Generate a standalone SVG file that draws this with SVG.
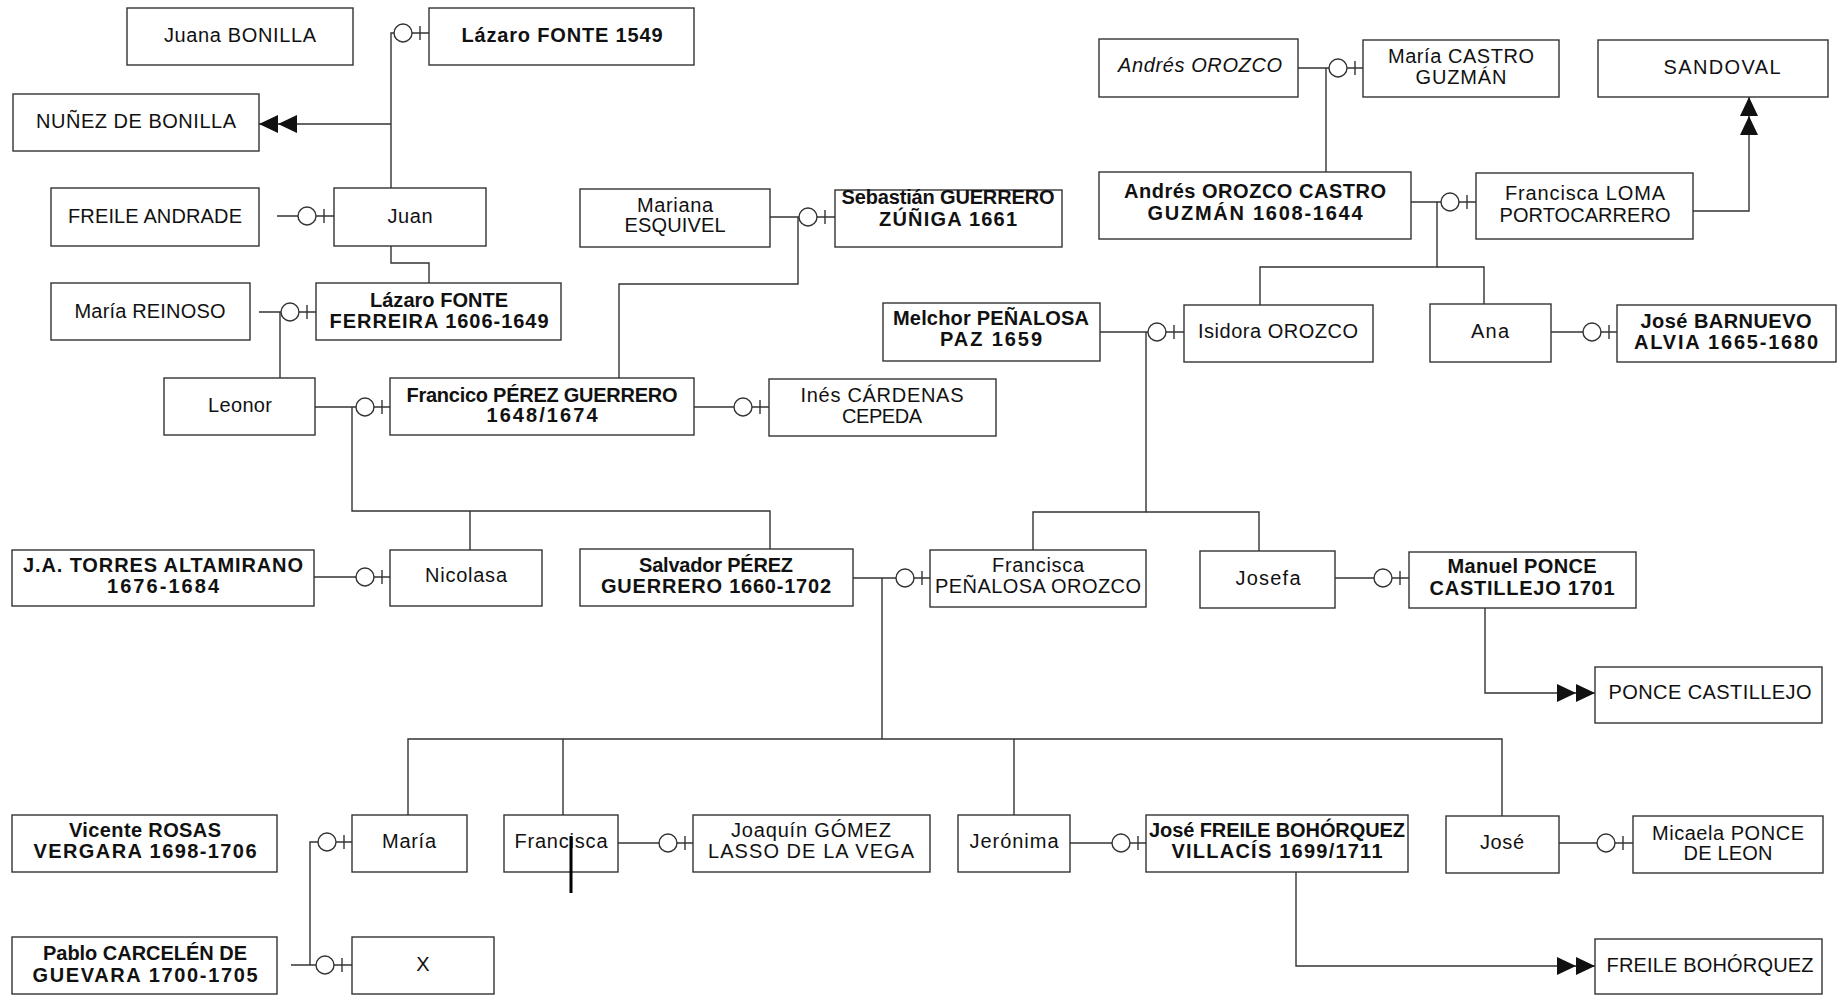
<svg xmlns="http://www.w3.org/2000/svg" xmlns:xlink="http://www.w3.org/1999/xlink" width="1843" height="996" viewBox="0 0 1843 996">
<style>
.node rect{fill:#fff;stroke:#333;stroke-width:1.4}
text{font-family:"Liberation Sans",Arial,Helvetica,sans-serif;font-size:20px;fill:#111;text-anchor:middle}
.b{font-weight:bold}
.i{font-style:italic}
.conn path{fill:none;stroke:#333;stroke-width:1.4}
.arr{marker-end:url(#dbl)}
</style>
<defs>
<marker id="dbl" viewBox="0 0 38 18" refX="38" refY="9" markerWidth="38" markerHeight="18" markerUnits="userSpaceOnUse" orient="auto">
<path d="M0,0 L19,9 L0,18 Z M19,0 L38,9 L19,18 Z" fill="#111"/>
</marker>
<g id="ring">
<circle r="9" fill="#fff" stroke="#333" stroke-width="1.4"/>
<line x1="17" y1="-7" x2="17" y2="7" stroke="#333" stroke-width="1.4"/>
</g>
</defs>
<rect width="1843" height="996" fill="#fff"/>

<g id="connectors" class="conn">
<path d="M429,33 H391 V188"/>
<path class="arr" d="M391,124 H259"/>
<path d="M277,216 H334"/>
<path d="M391,246 V263 H429 V283"/>
<path d="M259,312 H316"/>
<path d="M280,312 V378"/>
<path d="M770,217 H835"/>
<path d="M798,217 V284 H619 V378"/>
<path d="M315,407 H390"/>
<path d="M352,407 V511 H770 V549"/>
<path d="M470,511 V550"/>
<path d="M694,407 H769"/>
<path d="M314,577 H390"/>
<path d="M1100,332 H1184"/>
<path d="M1146,332 V512 H1033 V550"/>
<path d="M1146,512 H1259 V551"/>
<path d="M1298,68 H1363"/>
<path d="M1326,68 V172"/>
<path d="M1411,202 H1476"/>
<path d="M1437,202 V267 H1260 V305"/>
<path d="M1437,267 H1484 V304"/>
<path d="M1551,332 H1617"/>
<path class="arr" d="M1693,211 H1749 V97"/>
<path d="M853,578 H930"/>
<path d="M882,578 V739"/>
<path d="M408,815 V739 H1502 V816"/>
<path d="M563,739 V815"/>
<path d="M1014,739 V815"/>
<path d="M1335,578 H1409"/>
<path class="arr" d="M1485,608 V693 H1595"/>
<path d="M310,965 V842 H352"/>
<path d="M291,965 H352"/>
<path d="M618,843 H693"/>
<path d="M1070,843 H1146"/>
<path d="M1559,843 H1633"/>
<path class="arr" d="M1296,872 V966 H1595"/>
<use xlink:href="#ring" x="403" y="33"/>
<use xlink:href="#ring" x="307" y="216"/>
<use xlink:href="#ring" x="290" y="312"/>
<use xlink:href="#ring" x="808" y="217"/>
<use xlink:href="#ring" x="365" y="407"/>
<use xlink:href="#ring" x="743" y="407"/>
<use xlink:href="#ring" x="365" y="577"/>
<use xlink:href="#ring" x="1157" y="332"/>
<use xlink:href="#ring" x="1338" y="68"/>
<use xlink:href="#ring" x="1450" y="202"/>
<use xlink:href="#ring" x="1592" y="332"/>
<use xlink:href="#ring" x="905" y="578"/>
<use xlink:href="#ring" x="1383" y="578"/>
<use xlink:href="#ring" x="327" y="842"/>
<use xlink:href="#ring" x="325" y="965"/>
<use xlink:href="#ring" x="668" y="843"/>
<use xlink:href="#ring" x="1121" y="843"/>
<use xlink:href="#ring" x="1606" y="843"/>
</g>

<g id="juana_bonilla" class="node"><rect x="127" y="8" width="226" height="57"/><text x="240" y="42" textLength="152" lengthAdjust="spacing">Juana BONILLA</text></g>
<g id="lazaro_fonte_1549" class="node"><rect x="429" y="8" width="265" height="57"/><text class="b" x="562" y="42" textLength="201" lengthAdjust="spacing">Lázaro FONTE 1549</text></g>
<g id="nunez_de_bonilla" class="node"><rect x="13" y="94" width="246" height="57"/><text x="136" y="128" textLength="200" lengthAdjust="spacing">NUÑEZ DE BONILLA</text></g>
<g id="freile_andrade" class="node"><rect x="51" y="188" width="208" height="58"/><text x="155" y="223" textLength="174" lengthAdjust="spacing">FREILE ANDRADE</text></g>
<g id="juan" class="node"><rect x="334" y="188" width="152" height="58"/><text x="410" y="223" textLength="45" lengthAdjust="spacing">Juan</text></g>
<g id="maria_reinoso" class="node"><rect x="51" y="283" width="199" height="57"/><text x="150" y="318" textLength="151" lengthAdjust="spacing">María REINOSO</text></g>
<g id="lazaro_fonte_ferreira" class="node"><rect x="316" y="283" width="245" height="57"/><text class="b" x="439" y="307" textLength="138" lengthAdjust="spacing">Lázaro FONTE</text><text class="b" x="439" y="328" textLength="219" lengthAdjust="spacing">FERREIRA 1606-1649</text></g>
<g id="mariana_esquivel" class="node"><rect x="580" y="189" width="190" height="58"/><text x="675" y="212" textLength="76" lengthAdjust="spacing">Mariana</text><text x="675" y="232" textLength="101" lengthAdjust="spacing">ESQUIVEL</text></g>
<g id="sebastian_guerrero" class="node"><rect x="835" y="190" width="227" height="57"/><text class="b" x="948" y="204" textLength="213" lengthAdjust="spacing">Sebastián GUERRERO</text><text class="b" x="948" y="226" textLength="138" lengthAdjust="spacing">ZÚÑIGA 1661</text></g>
<g id="leonor" class="node"><rect x="164" y="378" width="151" height="57"/><text x="240" y="412" textLength="64" lengthAdjust="spacing">Leonor</text></g>
<g id="francico_perez" class="node"><rect x="390" y="378" width="304" height="57"/><text class="b" x="542" y="402" textLength="271" lengthAdjust="spacing">Francico PÉREZ GUERRERO</text><text class="b" x="542" y="422" textLength="111" lengthAdjust="spacing">1648/1674</text></g>
<g id="ines_cardenas" class="node"><rect x="769" y="379" width="227" height="57"/><text x="882" y="402" textLength="163" lengthAdjust="spacing">Inés CÁRDENAS</text><text x="882" y="423" textLength="80" lengthAdjust="spacing">CEPEDA</text></g>
<g id="melchor_penalosa" class="node"><rect x="883" y="303" width="217" height="58"/><text class="b" x="991" y="325" textLength="196" lengthAdjust="spacing">Melchor PEÑALOSA</text><text class="b" x="991" y="346" textLength="102" lengthAdjust="spacing">PAZ 1659</text></g>
<g id="isidora_orozco" class="node"><rect x="1184" y="305" width="189" height="57"/><text x="1278" y="338" textLength="160" lengthAdjust="spacing">Isidora OROZCO</text></g>
<g id="ana" class="node"><rect x="1430" y="304" width="121" height="58"/><text x="1490" y="338" textLength="38" lengthAdjust="spacing">Ana</text></g>
<g id="jose_barnuevo" class="node"><rect x="1617" y="305" width="219" height="57"/><text class="b" x="1726" y="328" textLength="171" lengthAdjust="spacing">José BARNUEVO</text><text class="b" x="1726" y="349" textLength="184" lengthAdjust="spacing">ALVIA 1665-1680</text></g>
<g id="andres_orozco" class="node"><rect x="1099" y="39" width="199" height="58"/><text class="i" x="1200" y="72" textLength="164" lengthAdjust="spacing">Andrés OROZCO</text></g>
<g id="maria_castro" class="node"><rect x="1363" y="40" width="196" height="57"/><text x="1461" y="63" textLength="146" lengthAdjust="spacing">María CASTRO</text><text x="1461" y="84" textLength="91" lengthAdjust="spacing">GUZMÁN</text></g>
<g id="sandoval" class="node"><rect x="1598" y="40" width="230" height="57"/><text x="1722" y="74" textLength="117" lengthAdjust="spacing">SANDOVAL</text></g>
<g id="andres_orozco_castro" class="node"><rect x="1099" y="172" width="312" height="67"/><text class="b" x="1255" y="198" textLength="262" lengthAdjust="spacing">Andrés OROZCO CASTRO</text><text class="b" x="1255" y="220" textLength="215" lengthAdjust="spacing">GUZMÁN 1608-1644</text></g>
<g id="francisca_loma" class="node"><rect x="1476" y="173" width="217" height="66"/><text x="1585" y="200" textLength="160" lengthAdjust="spacing">Francisca LOMA</text><text x="1585" y="222" textLength="171" lengthAdjust="spacing">PORTOCARRERO</text></g>
<g id="ja_torres" class="node"><rect x="12" y="550" width="302" height="56"/><text class="b" x="163" y="572" textLength="280" lengthAdjust="spacing">J.A. TORRES ALTAMIRANO</text><text class="b" x="163" y="593" textLength="112" lengthAdjust="spacing">1676-1684</text></g>
<g id="nicolasa" class="node"><rect x="390" y="550" width="152" height="56"/><text x="466" y="582" textLength="82" lengthAdjust="spacing">Nicolasa</text></g>
<g id="salvador_perez" class="node"><rect x="580" y="549" width="273" height="57"/><text class="b" x="716" y="572" textLength="154" lengthAdjust="spacing">Salvador PÉREZ</text><text class="b" x="716" y="593" textLength="230" lengthAdjust="spacing">GUERRERO 1660-1702</text></g>
<g id="francisca_penalosa" class="node"><rect x="930" y="550" width="216" height="57"/><text x="1038" y="572" textLength="92" lengthAdjust="spacing">Francisca</text><text x="1038" y="593" textLength="206" lengthAdjust="spacing">PEÑALOSA OROZCO</text></g>
<g id="josefa" class="node"><rect x="1200" y="551" width="135" height="57"/><text x="1268" y="585" textLength="65" lengthAdjust="spacing">Josefa</text></g>
<g id="manuel_ponce" class="node"><rect x="1409" y="552" width="227" height="56"/><text class="b" x="1522" y="573" textLength="149" lengthAdjust="spacing">Manuel PONCE</text><text class="b" x="1522" y="595" textLength="185" lengthAdjust="spacing">CASTILLEJO 1701</text></g>
<g id="ponce_castillejo" class="node"><rect x="1595" y="667" width="227" height="56"/><text x="1710" y="699" textLength="203" lengthAdjust="spacing">PONCE CASTILLEJO</text></g>
<g id="vicente_rosas" class="node"><rect x="12" y="815" width="265" height="57"/><text class="b" x="145" y="837" textLength="152" lengthAdjust="spacing">Vicente ROSAS</text><text class="b" x="145" y="858" textLength="223" lengthAdjust="spacing">VERGARA 1698-1706</text></g>
<g id="maria" class="node"><rect x="352" y="815" width="115" height="57"/><text x="409" y="848" textLength="54" lengthAdjust="spacing">María</text></g>
<g id="francisca" class="node"><rect x="504" y="815" width="114" height="57"/><text x="561" y="848" textLength="93" lengthAdjust="spacing">Francisca</text></g>
<g id="joaquin_gomez" class="node"><rect x="693" y="815" width="237" height="57"/><text x="811" y="837" textLength="160" lengthAdjust="spacing">Joaquín GÓMEZ</text><text x="811" y="858" textLength="206" lengthAdjust="spacing">LASSO DE LA VEGA</text></g>
<g id="jeronima" class="node"><rect x="958" y="815" width="112" height="57"/><text x="1014" y="848" textLength="89" lengthAdjust="spacing">Jerónima</text></g>
<g id="jose_freile" class="node"><rect x="1146" y="815" width="262" height="57"/><text class="b" x="1277" y="837" textLength="256" lengthAdjust="spacing">José FREILE BOHÓRQUEZ</text><text class="b" x="1277" y="858" textLength="211" lengthAdjust="spacing">VILLACÍS 1699/1711</text></g>
<g id="jose" class="node"><rect x="1446" y="816" width="113" height="57"/><text x="1502" y="849" textLength="44" lengthAdjust="spacing">José</text></g>
<g id="micaela_ponce" class="node"><rect x="1633" y="816" width="190" height="57"/><text x="1728" y="840" textLength="152" lengthAdjust="spacing">Micaela PONCE</text><text x="1728" y="860" textLength="89" lengthAdjust="spacing">DE LEON</text></g>
<g id="pablo_carcelen" class="node"><rect x="12" y="937" width="265" height="57"/><text class="b" x="145" y="960" textLength="204" lengthAdjust="spacing">Pablo CARCELÉN DE</text><text class="b" x="145" y="982" textLength="225" lengthAdjust="spacing">GUEVARA 1700-1705</text></g>
<g id="x" class="node"><rect x="352" y="937" width="142" height="57"/><text x="423" y="971" textLength="13" lengthAdjust="spacing">X</text></g>
<g id="freile_bohorquez" class="node"><rect x="1595" y="939" width="227" height="55"/><text x="1710" y="972" textLength="207" lengthAdjust="spacing">FREILE BOHÓRQUEZ</text></g>

<g id="stray_mark"><path d="M571,836 V893" fill="none" stroke="#000" stroke-width="3"/></g>
</svg>
